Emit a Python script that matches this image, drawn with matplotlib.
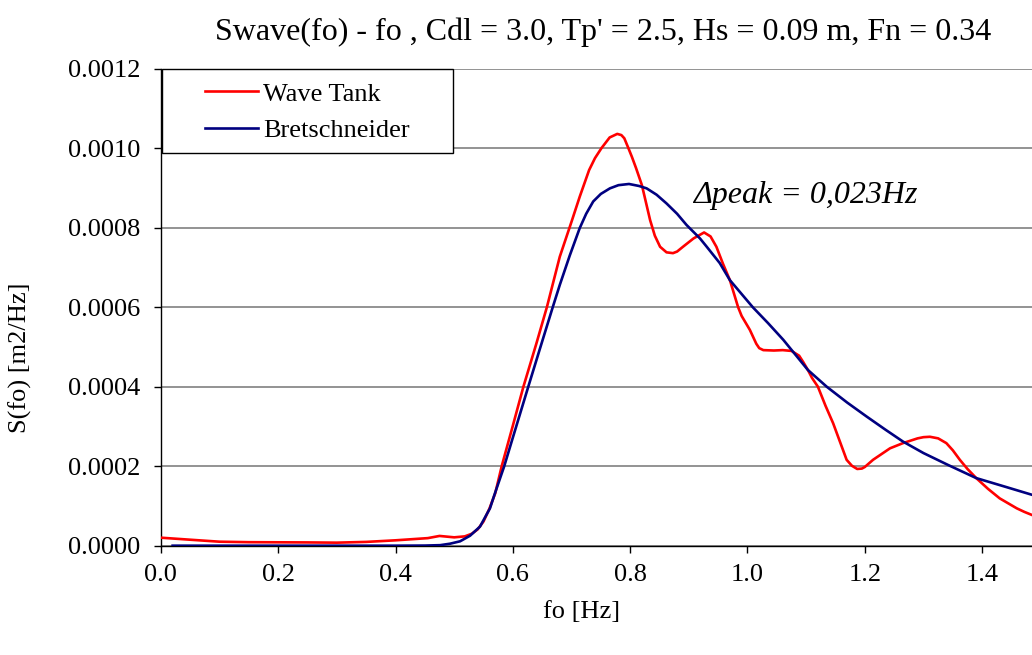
import matplotlib
matplotlib.use("Agg")
import matplotlib.pyplot as plt
from matplotlib.patches import Rectangle

plt.rcParams['font.family'] = ['Liberation Serif', 'DejaVu Serif']

# Wave Tank spectrum
wave_f = [0.0, 0.05, 0.1, 0.15, 0.2, 0.25, 0.3, 0.35, 0.4, 0.43, 0.455, 0.475,
          0.5, 0.518, 0.53, 0.54, 0.55, 0.56, 0.57, 0.581, 0.6, 0.618, 0.64,
          0.658, 0.68, 0.70, 0.714, 0.73, 0.74, 0.751, 0.765, 0.778, 0.785,
          0.79, 0.797, 0.803, 0.81, 0.82, 0.834, 0.842, 0.851, 0.862, 0.873,
          0.88, 0.89, 0.908, 0.926, 0.937, 0.947, 0.958, 0.97, 0.984, 0.99,
          1.004, 1.015, 1.02, 1.027, 1.045, 1.06, 1.075, 1.088, 1.095, 1.103,
          1.11, 1.12, 1.133, 1.146, 1.158, 1.169, 1.178, 1.187, 1.195, 1.2,
          1.214, 1.228, 1.243, 1.265, 1.29, 1.3, 1.311, 1.325, 1.339, 1.35,
          1.362, 1.375, 1.39, 1.41, 1.43, 1.459, 1.472, 1.485]
wave_s = [0.0000201, 0.000015, 0.0000100, 0.0000088, 0.0000085, 0.0000082,
          0.0000076, 0.0000095, 0.0000135, 0.0000165, 0.000019, 0.0000245,
          0.000021, 0.0000234, 0.000030, 0.000041, 0.000061, 0.000093,
          0.000132, 0.0002, 0.000302, 0.0004, 0.000508, 0.0006, 0.000727,
          0.000815, 0.000878, 0.000945, 0.000975, 0.001, 0.001027, 0.001036,
          0.001033, 0.001025, 0.001, 0.000978, 0.00095, 0.000907, 0.000819,
          0.00078, 0.000752, 0.000738, 0.000736, 0.00074, 0.000752, 0.000773,
          0.000788, 0.000778, 0.000752, 0.00071, 0.000668, 0.0006, 0.000578,
          0.000543, 0.000508, 0.000497, 0.000492, 0.000491, 0.000492, 0.00049,
          0.000478, 0.000462, 0.000442, 0.000422, 0.0004, 0.000352, 0.000308,
          0.00026, 0.000216, 0.000201, 0.000193, 0.000194, 0.000198, 0.000216,
          0.00023, 0.000245, 0.000258, 0.00027, 0.000273, 0.000274, 0.00027,
          0.000258, 0.00024, 0.000216, 0.000193, 0.00017, 0.000143, 0.000119,
          0.000094, 0.000085, 0.0000772]

# Bretschneider spectrum
bret_f = [0.02, 0.1, 0.2, 0.3, 0.4, 0.45, 0.476, 0.493, 0.51, 0.527, 0.544,
          0.561, 0.5695, 0.5853, 0.6, 0.6263, 0.645, 0.668, 0.68, 0.697, 0.714,
          0.725, 0.737, 0.75, 0.7655, 0.78, 0.798, 0.815, 0.828, 0.845, 0.862,
          0.88, 0.896, 0.919, 0.93, 0.9527, 0.97, 1.009, 1.035, 1.061, 1.103,
          1.135, 1.17, 1.203, 1.235, 1.265, 1.3, 1.342, 1.39, 1.44, 1.485]
bret_s = [0.0, 0.0, 0.0, 0.0, 0.0, 0.0000003, 0.0000013, 0.000005, 0.000011,
          0.000025, 0.000048, 0.000094, 0.000132, 0.0002, 0.000272, 0.0004,
          0.00049, 0.0006, 0.000656, 0.00073, 0.000799, 0.000835, 0.000866,
          0.000885, 0.000899, 0.000907, 0.00091, 0.000905, 0.000899, 0.000883,
          0.000861, 0.000835, 0.000807, 0.000773, 0.000753, 0.000711, 0.000668,
          0.0006, 0.00056, 0.000518, 0.000442, 0.0004, 0.00036, 0.000325,
          0.000292, 0.000262, 0.000233, 0.000203, 0.00017, 0.000148, 0.000128]

x_ticks = [0.0, 0.2, 0.4, 0.6, 0.8, 1.0, 1.2, 1.4]
y_ticks = [0.0, 0.0002, 0.0004, 0.0006, 0.0008, 0.0010, 0.0012]

fs = 19
fig = plt.figure(figsize=(10.32, 6.55), dpi=100)
ax = fig.add_axes([0.1559, 0.1669, 0.8441, 0.7282])

ax.plot(wave_f, wave_s, color='#ff0000', lw=1.9, label='Wave Tank', zorder=3)
ax.plot(bret_f, bret_s, color='#000080', lw=1.9, label='Bretschneider', zorder=3)

ax.set_xlim(0, 1.485)
ax.set_ylim(0, 0.0012)
ax.set_xticks(x_ticks)
ax.set_yticks(y_ticks)
ax.set_xticklabels([f"{v:.1f}" for v in x_ticks])
ax.set_yticklabels([f"{v:.4f}" for v in y_ticks])
ax.tick_params(direction='out', length=5, width=1, labelsize=fs, color='black')
ax.tick_params(axis='y', pad=10)
ax.tick_params(axis='x', pad=8)

ax.grid(axis='y', color='#808080', lw=1.2, zorder=1)
ax.set_axisbelow(True)
for side in ('top', 'right'):
    ax.spines[side].set_visible(False)
for side in ('left', 'bottom'):
    ax.spines[side].set_linewidth(1.0)
    ax.spines[side].set_color('black')

fig.text(582 / 1032, 1 - 612 / 655, 'fo [Hz]', ha='center', va='center',
         fontsize=fs)
fig.text(20 / 1032, 1 - 358 / 655, 'S(fo) [m2/Hz]', ha='center', va='center',
         rotation=90, fontsize=fs)

fig.text(603 / 1032, 1 - 32 / 655,
         "Swave(fo) - fo , Cdl = 3.0, Tp' = 2.5, Hs = 0.09 m, Fn = 0.34",
         ha='center', va='center', fontsize=23)

ax.text(0.907, 0.000882, 'Δpeak = 0,023Hz', style='italic', fontsize=23,
        va='center', ha='left')

# legend box (Excel style)
ax.add_patch(Rectangle((0.001, 0.824), 0.334, 0.176, transform=ax.transAxes,
                       facecolor='white', edgecolor='black', lw=1.0,
                       zorder=4, clip_on=False))
leg = ax.legend(loc='center left', bbox_to_anchor=(0.0506, 0.909),
                frameon=False, fontsize=fs, borderpad=0, borderaxespad=0,
                handlelength=2.0, handletextpad=0.2, labelspacing=0.5)
leg.set_zorder(5)

fig.savefig('out.png', dpi=100)
